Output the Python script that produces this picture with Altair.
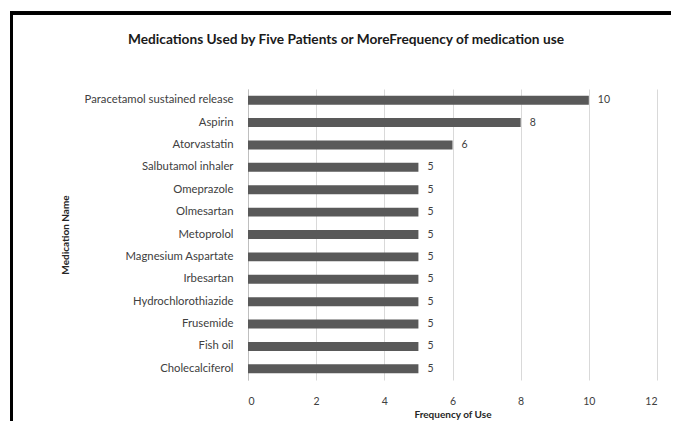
import altair as alt
import pandas as pd

medications = ["Paracetamol sustained release", "Aspirin", "Atorvastatin", "Salbutamol inhaler",
               "Omeprazole", "Olmesartan", "Metoprolol", "Magnesium Aspartate", "Irbesartan",
               "Hydrochlorothiazide", "Frusemide", "Fish oil", "Cholecalciferol"]
frequency = [10, 8, 6, 5, 5, 5, 5, 5, 5, 5, 5, 5, 5]
x_ticks = [0, 2, 4, 6, 8, 10, 12]
title_text = "Medications Used by Five Patients or MoreFrequency of medication use"

df = pd.DataFrame({"Medication": medications, "Frequency": frequency})

FONT = "Lato"
W, H = 409, 291

y_enc = alt.Y("Medication:N", sort=medications,
              scale=alt.Scale(paddingInner=0.6, paddingOuter=0.3),
              axis=alt.Axis(title="Medication Name", ticks=False, domainColor="#bfbfbf",
                            labelPadding=15, labelFont=FONT, labelFontSize=11.3,
                            labelColor="#404040", titleFont=FONT, titleFontSize=10,
                            titleFontWeight="bold", titleColor="#262626", titleX=-183,
                            titleY=H / 2, titleAngle=-90, titleBaseline="middle",
                            titleAlign="center"))
x_enc = alt.X("Frequency:Q", scale=alt.Scale(domain=[0, 12]),
              axis=alt.Axis(values=x_ticks, title="Frequency of Use", ticks=False, domain=False,
                            grid=True, gridColor="#d9d9d9", labelPadding=16, labelFont=FONT,
                            labelFontSize=10.5, labelColor="#404040", titleFont=FONT,
                            titleFontSize=10, titleFontWeight="bold", titleColor="#262626",
                            titlePadding=3))

bars = alt.Chart(df).mark_bar(color="#595959").encode(x=x_enc, y=y_enc)
labels = alt.Chart(df).mark_text(align="left", dx=9, font=FONT, fontSize=10.5,
                                 color="#404040").encode(
    x="Frequency:Q", y=alt.Y("Medication:N", sort=medications), text="Frequency:Q")

title = alt.Chart(df.head(1)).mark_text(align="center", baseline="middle", font=FONT,
                                        fontSize=13.7, fontWeight="bold",
                                        color="#1a1a1a").encode(
    x=alt.value(98), y=alt.value(-49), text=alt.value(title_text))

border_left = alt.Chart(df).mark_rule(color="#000000", strokeWidth=3).encode(
    x=alt.value(-236.5), y=alt.value(-78), y2=alt.value(345))
border_top = alt.Chart(df).mark_rule(color="#000000", strokeWidth=2.5).encode(
    x=alt.value(-238), x2=alt.value(431), y=alt.value(-76))
border_right = alt.Chart(df).mark_rule(color="#9a9a9a", strokeWidth=1).encode(
    x=alt.value(428), y=alt.value(-77), y2=alt.value(345))

chart = alt.layer(bars, labels, title, border_left, border_top, border_right).properties(
    width=W, height=H,
    autosize=alt.AutoSizeParams(type="none"),
    padding={"left": 240, "top": 81, "right": 14, "bottom": 41},
    background="white",
).configure_view(stroke=None)

chart.save("out.html", embed_options={"renderer": "svg", "actions": False})
